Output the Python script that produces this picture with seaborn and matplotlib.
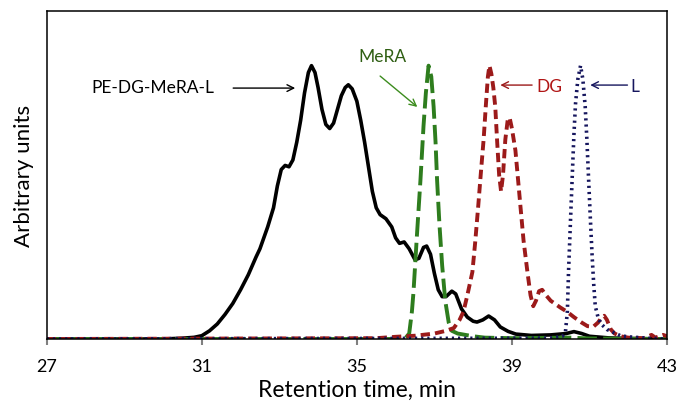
import matplotlib
matplotlib.use("Agg")
import matplotlib.pyplot as plt
import seaborn as sns
import pandas as pd

# Normalised chromatograms (retention time in min, intensity in arbitrary units)
pe_time = [27.0, 30.0, 30.5, 30.8, 31.0, 31.2, 31.4, 31.6, 31.8, 32.0, 32.2, 32.4, 32.5,
           32.6, 32.7, 32.85, 32.95, 33.05, 33.15, 33.25, 33.35, 33.45, 33.55, 33.65,
           33.75, 33.83, 33.92, 34.0, 34.1, 34.2, 34.3, 34.4, 34.5, 34.6, 34.7, 34.78,
           34.88, 35.0, 35.1, 35.2, 35.3, 35.4, 35.5, 35.6, 35.75, 35.9, 36.0, 36.1,
           36.22, 36.35, 36.5, 36.6, 36.72, 36.8, 36.9, 37.0, 37.1, 37.2, 37.3, 37.45,
           37.55, 37.7, 37.85, 38.0, 38.1, 38.25, 38.4, 38.55, 38.7, 38.9, 39.1, 39.5,
           40.0, 40.4, 40.6, 40.8, 41.0, 41.5, 42.0, 43.0]
pe_signal = [0.0, 0.0, 0.003, 0.006, 0.012, 0.03, 0.055, 0.09, 0.13, 0.18, 0.235, 0.3, 0.33,
             0.37, 0.41, 0.48, 0.56, 0.62, 0.635, 0.63, 0.655, 0.72, 0.8, 0.9,
             0.975, 1.0, 0.975, 0.92, 0.84, 0.785, 0.77, 0.79, 0.84, 0.89, 0.92, 0.93,
             0.915, 0.87, 0.8, 0.72, 0.63, 0.54, 0.48, 0.455, 0.44, 0.41, 0.37, 0.35,
             0.355, 0.33, 0.29, 0.295, 0.335, 0.34, 0.31, 0.24, 0.18, 0.155, 0.155, 0.175,
             0.165, 0.11, 0.08, 0.065, 0.062, 0.07, 0.084, 0.07, 0.044, 0.028, 0.018, 0.013,
             0.015, 0.02, 0.027, 0.02, 0.01, 0.004, 0.002, 0.0]

mera_time = [27.0, 36.0, 36.25, 36.35, 36.42, 36.46, 36.55, 36.64, 36.72, 36.78, 36.85,
             36.92, 36.98, 37.03, 37.07, 37.13, 37.2, 37.28, 37.37, 37.45, 37.6, 37.8,
             38.0, 38.3, 39.0, 40.5, 41.0, 43.0]
mera_signal = [0.0, 0.0, 0.003, 0.02, 0.1, 0.17, 0.38, 0.58, 0.78, 0.9, 1.0,
               0.96, 0.85, 0.72, 0.58, 0.42, 0.27, 0.14, 0.06, 0.03, 0.02, 0.015,
               0.01, 0.005, 0.003, 0.005, 0.002, 0.0]

dg_time = [27.0, 35.5, 36.0, 36.5, 37.0, 37.3, 37.5, 37.65, 37.75, 37.85, 37.98, 38.05,
           38.13, 38.2, 38.27, 38.33, 38.38, 38.42, 38.47, 38.52, 38.57, 38.62, 38.67,
           38.72, 38.77, 38.83, 38.89, 38.94, 39.0, 39.09, 39.16, 39.22, 39.3, 39.4,
           39.48, 39.55, 39.62, 39.7, 39.78, 39.88, 40.0, 40.1, 40.25, 40.42, 40.6,
           40.8, 40.95, 41.1, 41.22, 41.32, 41.38, 41.45, 41.55, 41.65, 41.8, 42.0,
           42.4, 42.6, 42.7, 42.9, 43.0]
dg_signal = [0.0, 0.003, 0.008, 0.012, 0.02, 0.03, 0.04, 0.07, 0.1, 0.16, 0.245, 0.35,
             0.485, 0.61, 0.73, 0.86, 0.96, 1.0, 0.97, 0.92, 0.85, 0.72, 0.6,
             0.54, 0.6, 0.73, 0.8, 0.81, 0.77, 0.69, 0.58, 0.485, 0.36, 0.245,
             0.16, 0.12, 0.14, 0.175, 0.18, 0.16, 0.14, 0.13, 0.115, 0.1, 0.08,
             0.06, 0.047, 0.045, 0.06, 0.08, 0.085, 0.07, 0.035, 0.02, 0.01, 0.005,
             0.003, 0.015, 0.005, 0.015, 0.01]

l_time = [27.0, 40.0, 40.3, 40.38, 40.43, 40.46, 40.51, 40.56, 40.6, 40.64, 40.7, 40.77,
          40.83, 40.89, 40.93, 40.97, 41.02, 41.07, 41.11, 41.15, 41.22, 41.3, 41.45,
          41.6, 41.8, 42.0, 42.5, 43.0]
l_signal = [0.0, 0.003, 0.01, 0.025, 0.1, 0.245, 0.43, 0.61, 0.75, 0.86, 0.95, 1.0,
            0.95, 0.85, 0.74, 0.61, 0.45, 0.3, 0.2, 0.12, 0.08, 0.055, 0.035,
            0.025, 0.012, 0.008, 0.003, 0.0]

x_ticks = [27, 31, 35, 39, 43]

BLACK = "#000000"
GREEN = "#2E7D1E"
RED = "#9C1A1A"
NAVY = "#16165E"

sns.set_theme(style="white")
plt.rcParams["font.family"] = ["Lato", "DejaVu Sans"]

fig = plt.figure(figsize=(6.76, 4.06), dpi=100)
ax = fig.add_axes([46.7 / 676, 1 - 340 / 406, (667 - 46.7) / 676, (340 - 12) / 406])

series = [
    (pe_time, pe_signal, BLACK, "-", 2.6),
    (mera_time, mera_signal, GREEN, (0, (5, 1.6)), 2.8),
    (dg_time, dg_signal, RED, (0, (2.4, 1.3)), 2.8),
    (l_time, l_signal, NAVY, (0, (0.6, 1.1)), 2.6),
]
for t, s, col, ls, lw in series:
    df = pd.DataFrame({"time": t, "signal": s})
    sns.lineplot(data=df, x="time", y="signal", ax=ax, color=col, linestyle=ls,
                 linewidth=lw, estimator=None, sort=True)

ax.set_xlim(27, 43)
ax.set_ylim(0, 1.2)
ax.set_xticks(x_ticks)
ax.set_xticklabels([str(v) for v in x_ticks])
ax.set_yticks([])
ax.tick_params(axis="x", direction="out", length=4.5, width=1.5, color="#808080",
               labelsize=13, pad=9, labelcolor="black", bottom=True)
for side in ["left", "right", "top", "bottom"]:
    ax.spines[side].set_visible(True)
    ax.spines[side].set_color("black")
    ax.spines[side].set_linewidth(1.1)

ax.set_xlabel("Retention time, min", fontsize=16.5, labelpad=4, color="black")
ax.set_ylabel("Arbitrary units", fontsize=16, labelpad=9, color="black")

# Peak labels with open arrows
arrow_kw = dict(arrowstyle="->", lw=1.0, shrinkA=0, shrinkB=0)
ax.annotate("", xy=(33.41, 0.918), xytext=(31.81, 0.918),
            arrowprops=dict(color=BLACK, **arrow_kw))
ax.text(29.74, 0.922, "PE-DG-MeRA-L", fontsize=12.5, color="black",
        ha="center", va="center")

ax.annotate("", xy=(36.56, 0.849), xytext=(35.6, 0.962),
            arrowprops=dict(color="#3C8C1E", **arrow_kw))
ax.text(35.65, 1.035, "MeRA", fontsize=12.5, color="#2E5E12", ha="center", va="center")

ax.annotate("", xy=(38.70, 0.929), xytext=(39.52, 0.929),
            arrowprops=dict(color=RED, **arrow_kw))
ax.text(39.96, 0.926, "DG", fontsize=12.5, color="#B01515", ha="center", va="center")

ax.annotate("", xy=(41.02, 0.929), xytext=(41.98, 0.929),
            arrowprops=dict(color=NAVY, **arrow_kw))
ax.text(42.17, 0.926, "L", fontsize=12.5, color=NAVY, ha="center", va="center")

fig.savefig("out.png", dpi=100)
